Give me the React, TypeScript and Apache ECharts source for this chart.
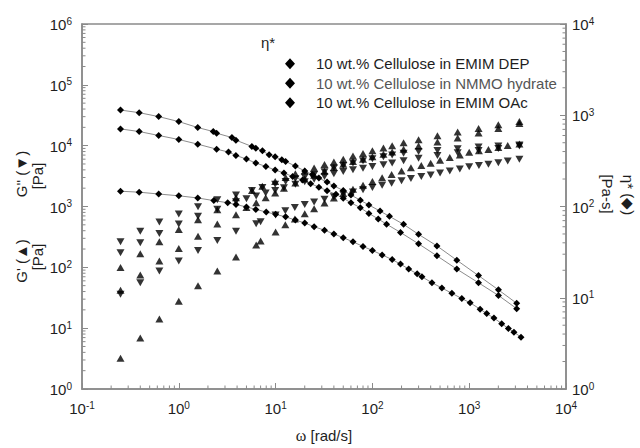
import React, { useEffect, useRef } from "react";
import * as echarts from "echarts";

// ---------- data ----------
// complex viscosity eta* [Pa-s] (right axis)
const omegaEta1 = [0.25, 0.39, 0.62, 1.0, 1.57, 2.27, 2.46, 3.54, 3.89, 5.69, 6.25, 7.31, 8.57, 9.89, 11.6, 12.7, 16, 20, 24, 28, 34, 40, 50, 60, 75, 92, 120, 150, 210, 300, 464, 745, 1247, 2004, 3093];
const eta1 = [1140, 1067, 966, 852, 733, 663, 635, 570, 533, 455, 436, 407, 368, 350, 325, 312, 277, 245, 224, 205, 185, 168, 150, 134, 117, 104, 89, 78, 63.7, 49.5, 37, 25.8, 17.5, 12.2, 8.7];

const omegaEta2 = [0.25, 0.39, 0.62, 1.0, 1.57, 2.46, 3.26, 3.89, 5.0, 6.25, 7.93, 9.89, 12.2, 15, 19, 23, 28, 34, 42, 50, 60, 75, 92, 115, 140, 195, 300, 464, 745, 1247, 2004, 3093];
const eta2 = [708, 663, 600, 542, 482, 425, 395, 363, 331, 299, 275, 251, 233, 213, 195, 178, 163, 149, 136, 123, 110, 97, 84, 73, 64, 52, 39, 28.8, 20.6, 14.6, 10.6, 7.6];

const omegaEta3 = [0.25, 0.39, 0.62, 1.0, 1.57, 2.3, 3.2, 3.9, 5.0, 6.25, 8, 10, 12.7, 16, 20, 25, 32, 40, 50, 63, 80, 100, 126, 160, 195, 237, 290, 325, 412, 522, 662, 839, 1023, 1297, 1517, 1800, 2167, 2541, 2900, 3430];
const eta3 = [147, 143.5, 137, 131, 124, 116, 110, 105, 99, 93, 87, 82, 77, 71, 66, 60, 55, 50, 45.5, 41, 36.5, 33, 29.5, 26.2, 23.4, 20.6, 18.3, 17.0, 14.6, 12.8, 11.2, 9.8, 8.8, 7.5, 6.7, 6.0, 5.2, 4.6, 4.2, 3.7];

// storage modulus G' (up triangles) and loss modulus G'' (down triangles) [Pa] (left axis)
const omegaMod1 = [0.25, 0.4, 0.63, 1.0, 1.58, 2.5, 3.9, 5.7, 7.3, 9.9, 12.7, 16, 20, 25, 32, 40, 50, 63, 80, 100, 130, 160, 210, 300, 470, 760, 1250, 2000, 3300];
const gPrime1 = [99, 167, 263, 417, 607, 883, 1390, 1830, 2150, 2580, 3000, 3450, 3830, 4300, 4890, 5400, 6000, 6760, 7440, 8270, 9180, 10000, 11200, 12500, 14600, 16800, 19200, 22000, 25000];
const gDouble1 = [263, 393, 557, 752, 988, 1286, 1550, 1830, 2050, 2320, 2580, 2860, 3060, 3350, 3720, 4300, 4700, 5200, 5650, 6100, 6600, 7000, 7500, 8000, 8300, 8900, 9500, 9900, 10300];

const omegaMod2 = [0.25, 0.4, 0.63, 1.0, 1.58, 2.5, 3.9, 5.0, 6.3, 7.9, 9.9, 12.2, 16, 20, 25, 32, 40, 50, 63, 80, 100, 130, 160, 210, 300, 470, 760, 1250, 2000, 3300];
const gPrime2 = [42, 75, 127, 204, 325, 516, 733, 962, 1149, 1391, 1671, 1991, 2436, 2825, 3260, 3811, 4364, 4936, 5496, 6003, 6584, 7234, 7880, 8713, 9898, 11488, 13404, 16083, 19186, 23041];
const gDouble2 = [174, 253, 359, 516, 689, 900, 1200, 1347, 1493, 1669, 1838, 2031, 2314, 2543, 2804, 3125, 3448, 3752, 4012, 4262, 4543, 4847, 5201, 5664, 6236, 6893, 7640, 8363, 9017, 9908];

const omegaMod3 = [0.25, 0.4, 0.63, 1.0, 1.58, 2.5, 3.9, 6.3, 7.0, 10, 12.6, 15.8, 20, 25, 32, 40, 50, 63, 80, 100, 126, 158, 200, 250, 320, 400, 500, 630, 800, 1000, 1260, 1580, 2000, 2500, 3300];
const gPrime3 = [3.2, 6.9, 14.2, 27.6, 49.8, 87, 148, 232, 270, 382, 500, 621, 760, 915, 1140, 1379, 1640, 1918, 2240, 2578, 2960, 3357, 3830, 4319, 4740, 5156, 5750, 6372, 7050, 7786, 8250, 8644, 9300, 10026, 10636];
const gDouble3 = [36, 56, 87, 127, 189, 276, 393, 520, 560, 726, 850, 962, 1080, 1189, 1320, 1448, 1590, 1726, 1890, 2062, 2240, 2417, 2650, 2894, 3100, 3300, 3560, 3823, 4150, 4516, 4720, 4927, 5250, 5614, 5956];

const legendNames = [
  "10 wt.% Cellulose in EMIM DEP",
  "10 wt.% Cellulose in NMMO hydrate",
  "10 wt.% Cellulose in EMIM OAc",
];

const FONT = "'Liberation Sans', Arial, sans-serif";
const AXIS_GRAY = "#8a8a8a";
const TEXT = "#1e1e1e";
const FS = 15;

const pairs = (xs: number[], ys: number[]) => xs.map((x, i) => [x, ys[i]]);

function minorValues(lo: number, hi: number) {
  const out: number[] = [];
  for (let e = lo; e < hi; e++) for (let m = 2; m <= 9; m++) out.push(m * Math.pow(10, e));
  return out;
}

const powLabel = (v: number) => `{b|10}{s|${Math.round(Math.log10(v))}}`;
const powRich = {
  b: { fontSize: FS, fontFamily: FONT, color: TEXT, lineHeight: 16, verticalAlign: "bottom" },
  s: { fontSize: 10, fontFamily: FONT, color: TEXT, lineHeight: 16, verticalAlign: "top", padding: [0, 0, 7, 0] },
};

const textEl = (text: string, x: number, y: number, rot: number) => ({
  type: "text",
  x,
  y,
  rotation: rot,
  style: {
    text,
    fontSize: FS,
    fontFamily: FONT,
    fill: TEXT,
    align: "center",
    verticalAlign: "middle",
    textAlign: "center",
    textVerticalAlign: "middle",
  },
});

export default function App() {
  const ref = useRef<HTMLDivElement>(null);

  useEffect(() => {
    if (!ref.current) return;
    const chart = echarts.init(ref.current, undefined, { renderer: "svg" });

    const triangle = (name: string, xs: number[], ys: number[], down: boolean) => ({
      name,
      type: "scatter",
      xAxisIndex: 0,
      yAxisIndex: 0,
      data: pairs(xs, ys),
      symbol: "triangle",
      symbolSize: [8, 7],
      symbolRotate: down ? 180 : 0,
      itemStyle: { color: "#000" },
      z: 4,
      silent: true,
    });

    const etaLine = (name: string, xs: number[], ys: number[]) => ({
      name,
      type: "line",
      xAxisIndex: 0,
      yAxisIndex: 1,
      data: pairs(xs, ys),
      symbol: "diamond",
      symbolSize: 7,
      showSymbol: true,
      itemStyle: { color: "#000" },
      lineStyle: { color: "#8c8c8c", width: 1 },
      z: 3,
      silent: true,
    });

    const minorSeries = (vals: number[], kind: "x" | "yl" | "yr") => ({
      type: "custom",
      xAxisIndex: 0,
      yAxisIndex: kind === "yr" ? 1 : 0,
      clip: false,
      silent: true,
      z: 10,
      data: vals.map((v) => (kind === "x" ? [v, 1] : kind === "yl" ? [0.1, v] : [10000, v])),
      renderItem: (_p: any, api: any) => {
        const pt = api.coord([api.value(0), api.value(1)]);
        const len = 3.5;
        const shape =
          kind === "x"
            ? { x1: pt[0], y1: pt[1], x2: pt[0], y2: pt[1] - len }
            : kind === "yl"
            ? { x1: pt[0], y1: pt[1], x2: pt[0] + len, y2: pt[1] }
            : { x1: pt[0], y1: pt[1], x2: pt[0] - len, y2: pt[1] };
        return { type: "line", shape, style: { stroke: AXIS_GRAY, lineWidth: 1 } };
      },
    });

    const axisCommon = {
      type: "log",
      logBase: 10,
      axisLine: { show: true, lineStyle: { color: AXIS_GRAY, width: 1.5 } },
      axisTick: { show: true, inside: true, length: 6, lineStyle: { color: AXIS_GRAY, width: 1 } },
      splitLine: { show: false },
      minorTick: { show: false },
    };

    chart.setOption({
      animation: false,
      backgroundColor: "#fff",
      grid: {
        left: 82,
        right: 74,
        top: 24,
        bottom: 56,
        show: true,
        borderColor: AXIS_GRAY,
        borderWidth: 1.5,
        backgroundColor: "transparent",
      },
      legend: {
        orient: "vertical",
        left: 280,
        top: 51,
        itemWidth: 10,
        itemHeight: 11,
        itemGap: 4,
        selectedMode: false,
        data: [
          { name: legendNames[0], icon: "diamond" },
          { name: legendNames[1], icon: "diamond", textStyle: { color: "#555" } },
          { name: legendNames[2], icon: "diamond" },
        ],
        textStyle: { fontSize: FS, fontFamily: FONT, color: TEXT, lineHeight: 15.5, padding: [0, 0, 0, 16] },
      },
      xAxis: {
        ...axisCommon,
        min: 0.1,
        max: 10000,
        splitNumber: 5,
        axisLabel: { margin: 11, formatter: powLabel, rich: powRich },
        name: "{w|ω} [rad/s]",
        nameLocation: "middle",
        nameGap: 38,
        nameTextStyle: {
          fontSize: FS,
          fontFamily: FONT,
          color: TEXT,
          rich: { w: { fontSize: 16, fontFamily: "'Liberation Serif', 'DejaVu Serif', serif", color: TEXT } },
        },
      },
      yAxis: [
        {
          ...axisCommon,
          position: "left",
          min: 1,
          max: 1000000,
          splitNumber: 6,
          axisLabel: { margin: 10, formatter: powLabel, rich: powRich },
        },
        {
          ...axisCommon,
          position: "right",
          min: 1,
          max: 10000,
          splitNumber: 4,
          axisLabel: { margin: 6, formatter: powLabel, rich: powRich },
        },
      ],
      graphic: [
        { type: "text", left: 261, top: 35, style: { text: "η*", fontSize: FS, fontFamily: FONT, fill: TEXT } },
        textEl("G' (▲)", 21, 261, Math.PI / 2),
        textEl("[Pa]", 37, 257, Math.PI / 2),
        textEl("G'' (▼)", 21, 174, Math.PI / 2),
        textEl("[Pa]", 37, 176, Math.PI / 2),
        textEl("η* (◆)", 628, 195, -Math.PI / 2),
        textEl("[Pa-s]", 607, 194, -Math.PI / 2),
      ],
      series: [
        etaLine(legendNames[0], omegaEta1, eta1),
        etaLine(legendNames[1], omegaEta2, eta2),
        etaLine(legendNames[2], omegaEta3, eta3),
        triangle("G' 1", omegaMod1, gPrime1, false),
        triangle("G'' 1", omegaMod1, gDouble1, true),
        triangle("G' 2", omegaMod2, gPrime2, false),
        triangle("G'' 2", omegaMod2, gDouble2, true),
        triangle("G' 3", omegaMod3, gPrime3, false),
        triangle("G'' 3", omegaMod3, gDouble3, true),
        minorSeries(minorValues(-1, 4), "x"),
        minorSeries(minorValues(0, 6), "yl"),
        minorSeries(minorValues(0, 4), "yr"),
      ],
    });

    return () => chart.dispose();
  }, []);

  return <div ref={ref} style={{ position: "fixed", left: 0, top: 0, width: 640, height: 448, background: "#fff" }} />;
}
